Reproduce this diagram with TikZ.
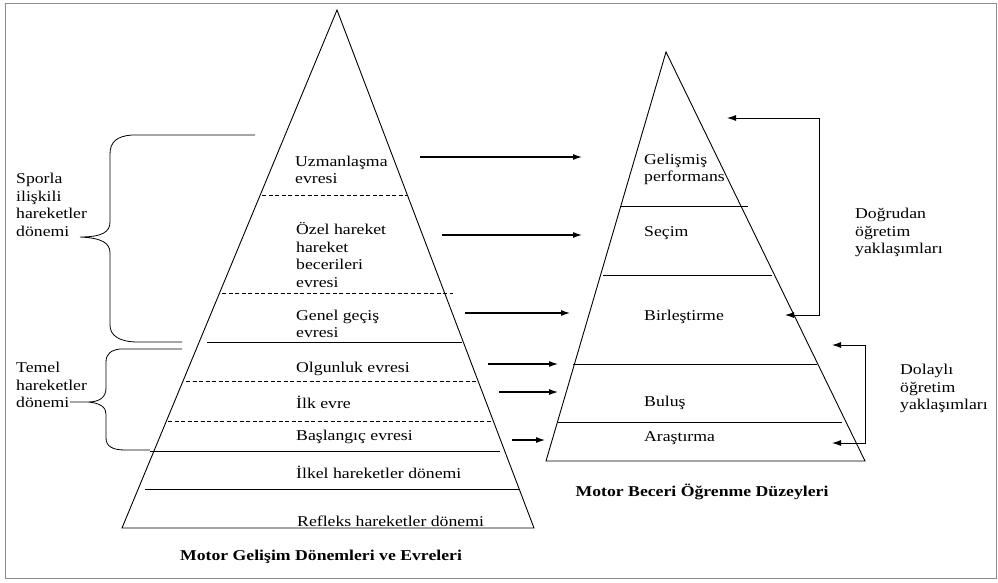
\documentclass[tikz,border=0pt]{standalone}
\usepackage{fontspec}
\setmainfont[FakeStretch=1.18]{Liberation Serif}
\usetikzlibrary{arrows.meta}
\begin{document}
\begin{tikzpicture}[x=1pt,y=-1pt,
  lbl/.style={font=\fontsize{15}{17.5}\selectfont, inner sep=0pt, align=left, anchor=west},
  captext/.style={font=\fontsize{15}{18}\selectfont\bfseries, inner sep=0pt},
  edge/.style={line width=0.9pt},
  sep/.style={line width=0.8pt},
  dsep/.style={line width=0.8pt, dash pattern=on 4pt off 2.5pt},
  arr/.style={line width=1.1pt, -{Latex[length=9pt,width=6pt]}},
  barr/.style={line width=0.9pt, {Latex[length=9pt,width=6pt]}-{Latex[length=9pt,width=6pt]}},
  bracestyle/.style={line width=0.8pt}]
\useasboundingbox (0,0) rectangle (998,582);
\draw[black!45, line width=1pt] (5,3) rectangle (996,578);

% ---------- left pyramid ----------
\coordinate (LA) at (337,10);
\coordinate (LL) at (122,528);
\coordinate (LR) at (534,528);
\draw[edge] (LL) -- (LA) -- (LR) -- cycle;
\coordinate (l1a) at (262,195); \coordinate (l1b) at (407,195);
\coordinate (l2a) at (222,293); \coordinate (l2b) at (453,293);
\coordinate (l3a) at (207,342); \coordinate (l3b) at (462,342);
\coordinate (l4a) at (186,381); \coordinate (l4b) at (477,381);
\coordinate (l5a) at (168,421); \coordinate (l5b) at (491,421);
\coordinate (l6a) at (150,451); \coordinate (l6b) at (500,451);
\coordinate (l7a) at (145,489); \coordinate (l7b) at (520,489);
\draw[dsep] (l1a) -- (l1b);
\draw[dsep] (l2a) -- (l2b);
\draw[sep] (l3a) -- (l3b);
\draw[dsep] (l4a) -- (l4b);
\draw[dsep] (l5a) -- (l5b);
\draw[sep] (l6a) -- (l6b);
\draw[sep] (l7a) -- (l7b);

\node[lbl] (uzm) at (295,170) {Uzmanlaşma\\evresi};
\node[lbl] (ozel) at (296,255) {Özel hareket\\hareket\\becerileri\\evresi};
\node[lbl] (genel) at (296,324) {Genel geçiş\\evresi};
\node[lbl] (olg) at (296,369) {Olgunluk evresi};
\node[lbl] (ilk) at (296,402) {İlk evre};
\node[lbl] (bas) at (296,437) {Başlangıç evresi};
\node[lbl] (ilkel) at (296,472) {İlkel hareketler dönemi};
\node[lbl] (refl) at (297,521) {Refleks hareketler dönemi};
\node[captext] (capL) at (321,557) {Motor Gelişim Dönemleri ve Evreleri};

% ---------- braces ----------
\node[lbl] (spor) at (16,205) {Sporla\\ilişkili\\hareketler\\dönemi};
\node[lbl] (temel) at (16,385) {Temel\\hareketler\\dönemi};
\coordinate (sT) at (255,135);
\coordinate (sTip) at (80,237);
\coordinate (sB) at (182,342);
\draw[bracestyle] (sT) -- (132,135) .. controls (117,136) and (110,142) .. (110,154)
  -- (110,222) .. controls (110,232) and (102,237) .. (sTip)
  .. controls (102,238) and (110,243) .. (110,253)
  -- (110,325) .. controls (110,336) and (120,342) .. (138,342) -- (sB);
\coordinate (tT) at (182,349);
\coordinate (tTip) at (70,402);
\coordinate (tB) at (150,450);
\draw[bracestyle] (tT) -- (120,349) .. controls (111,350) and (106,354) .. (106,362)
  -- (106,388) .. controls (106,397) and (100,402) .. (88,402) -- (tTip)
  (88,402) .. controls (100,403) and (106,407) .. (106,414)
  -- (106,438) .. controls (106,446) and (112,450) .. (125,450) -- (tB);

% ---------- right pyramid ----------
\coordinate (RA) at (666,52);
\coordinate (RL) at (546,461);
\coordinate (RR) at (865,461);
\draw[edge] (RL) -- (RA) -- (RR) -- cycle;
\coordinate (r1a) at (621,206); \coordinate (r1b) at (748,206);
\coordinate (r2a) at (603,275); \coordinate (r2b) at (772,275);
\coordinate (r3a) at (573,364); \coordinate (r3b) at (817,364);
\coordinate (r4a) at (558,422); \coordinate (r4b) at (842,422);
\draw[sep] (r1a) -- (r1b);
\draw[sep] (r2a) -- (r2b);
\draw[sep] (r3a) -- (r3b);
\draw[sep] (r4a) -- (r4b);

\node[lbl] (gel) at (644,169.5) {Gelişmiş\\performans};
\node[lbl] (secim) at (644,233) {Seçim};
\node[lbl] (birl) at (644,317) {Birleştirme};
\node[lbl] (bulus) at (644,403) {Buluş};
\node[lbl] (aras) at (644,438) {Araştırma};
\node[captext] (capR) at (702,492) {Motor Beceri Öğrenme Düzeyleri};

% ---------- arrows between pyramids ----------
\coordinate (a1s) at (420,157); \coordinate (a1e) at (582,157);
\coordinate (a2s) at (442,235); \coordinate (a2e) at (582,235);
\coordinate (a3s) at (465,313); \coordinate (a3e) at (570,313);
\coordinate (a4s) at (488,364); \coordinate (a4e) at (558,364);
\coordinate (a5s) at (499,392); \coordinate (a5e) at (558,392);
\coordinate (a6s) at (512,440); \coordinate (a6e) at (545,440);
\draw[arr] (a1s) -- (a1e);
\draw[arr] (a2s) -- (a2e);
\draw[arr] (a3s) -- (a3e);
\draw[arr] (a4s) -- (a4e);
\draw[arr] (a5s) -- (a5e);
\draw[arr] (a6s) -- (a6e);

% ---------- feedback brackets ----------
\coordinate (dTip) at (727,118); \coordinate (dT) at (819,118);
\coordinate (dB) at (819,315); \coordinate (dBtip) at (785,315);
\draw[barr] (dTip) -- (dT) -- (dB) -- (dBtip);
\node[lbl] (dog) at (855,232.5) {Doğrudan\\öğretim\\yaklaşımları};

\coordinate (yTip) at (832,345); \coordinate (yT) at (865,345);
\coordinate (yB) at (865,443); \coordinate (yBtip) at (832,443);
\draw[barr] (yTip) -- (yT) -- (yB) -- (yBtip);
\node[lbl] (dol) at (900,388.5) {Dolaylı\\öğretim\\yaklaşımları};
\end{tikzpicture}
\end{document}
